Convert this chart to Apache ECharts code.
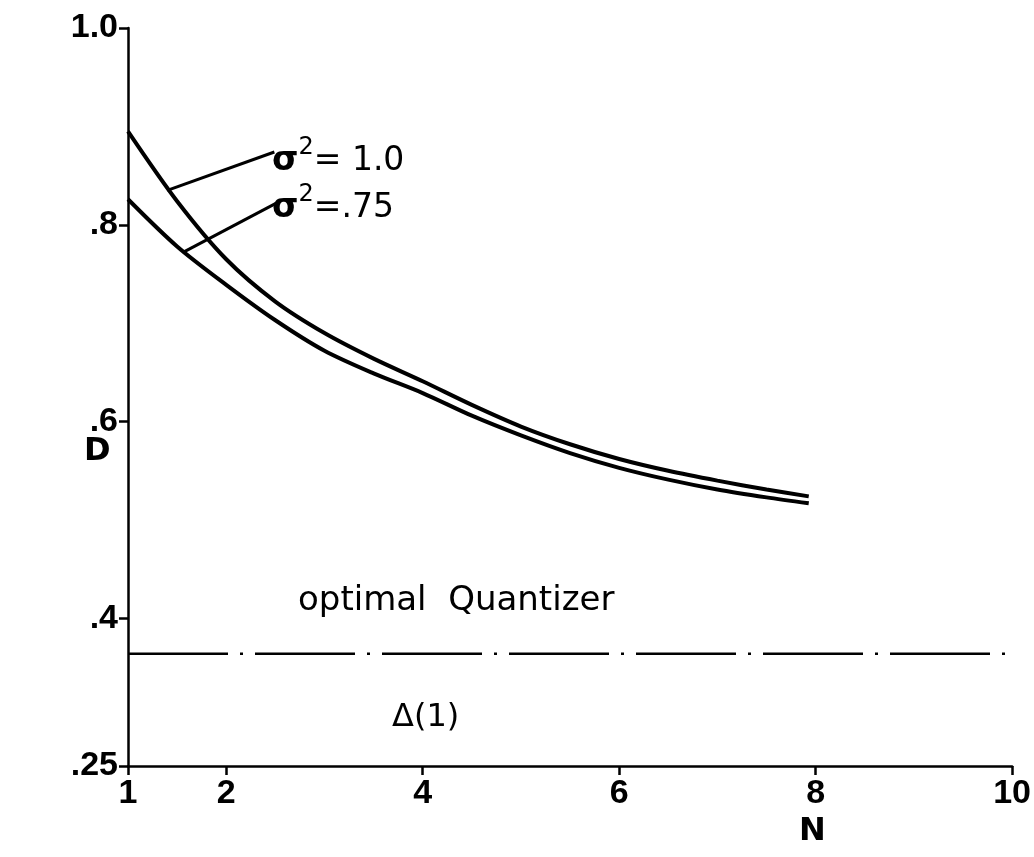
<!DOCTYPE html>
<html>
<head>
<meta charset="utf-8">
<script src="https://cdn.jsdelivr.net/npm/echarts@6/dist/echarts.min.js"></script>
<style>
html,body{margin:0;padding:0;background:#fff;}
#chart{width:1034px;height:857px;}
</style>
</head>
<body>
<div id="chart"></div>
<script>
// ---- data ----
const nValues  = [1, 1.5, 2, 2.5, 3, 3.5, 4, 4.5, 5, 5.5, 6, 6.5, 7, 7.5, 7.93];
const dSigma100 = [0.895, 0.824, 0.765, 0.722, 0.690, 0.664, 0.641, 0.617, 0.595, 0.577, 0.562, 0.550, 0.540, 0.531, 0.524];
const dSigma075 = [0.826, 0.778, 0.739, 0.703, 0.672, 0.649, 0.629, 0.606, 0.586, 0.568, 0.553, 0.541, 0.531, 0.523, 0.517];
const optimalN = [1, 10];
const optimalD = [0.364, 0.364];
const xTickValues = [1, 2, 4, 6, 8, 10];
const xTickLabels = ['1', '2', '4', '6', '8', '10'];
const yTickValues = [0.25, 0.4, 0.6, 0.8, 1.0];
const yTickLabels = ['.25', '.4', '.6', '.8', '1.0'];
// leader lines (data units): from curve to label
const leader100 = [[1.40, 0.835], [2.49, 0.874]];
const leader075 = [[1.56, 0.772], [2.51, 0.822]];

const FONT = 'DejaVu Sans';
const TICKFONT = 'Liberation Sans';
const chart = echarts.init(document.getElementById('chart'), null, {renderer: 'canvas'});

function pairs(xs, ys) { return xs.map((x, i) => [x, ys[i]]); }

const option = {
  backgroundColor: '#ffffff',
  animation: false,
  grid: {left: 128, right: 18, top: 28, bottom: 91},
  xAxis: {
    type: 'value', min: 1, max: 10,
    axisLine: {show: true, onZero: false, lineStyle: {color: '#000', width: 2.5}},
    axisTick: {show: true, inside: false, length: 9, customValues: xTickValues, lineStyle: {color: '#000', width: 2.5}},
    axisLabel: {show: true, customValues: xTickValues, margin: 11, color: '#000', fontFamily: TICKFONT, fontWeight: 'bold', fontSize: 34,
      formatter: v => xTickLabels[xTickValues.indexOf(v)] ?? ''},
    splitLine: {show: false}
  },
  yAxis: {
    type: 'value', min: 0.25, max: 1.0,
    axisLine: {show: true, onZero: false, lineStyle: {color: '#000', width: 2.5}},
    axisTick: {show: true, inside: false, length: 9, customValues: yTickValues, lineStyle: {color: '#000', width: 2.5}},
    axisLabel: {show: true, customValues: yTickValues, margin: 10, color: '#000', fontFamily: TICKFONT, fontWeight: 'bold', fontSize: 34,
      formatter: v => {
        const i = yTickValues.findIndex(t => Math.abs(t - v) < 1e-9);
        return i >= 0 ? yTickLabels[i] : '';
      }},
    splitLine: {show: false}
  },
  series: [
    {
      name: 'σ²=1.0', type: 'line', data: pairs(nValues, dSigma100), smooth: 0.3,
      showSymbol: false, lineStyle: {color: '#000', width: 4}, z: 3,
      markLine: {silent: true, symbol: ['none', 'none'], label: {show: false},
        lineStyle: {color: '#000', width: 3, type: 'solid'},
        data: [[{coord: leader100[0]}, {coord: leader100[1]}]]}
    },
    {
      name: 'σ²=.75', type: 'line', data: pairs(nValues, dSigma075), smooth: 0.3,
      showSymbol: false, lineStyle: {color: '#000', width: 4}, z: 3,
      markLine: {silent: true, symbol: ['none', 'none'], label: {show: false},
        lineStyle: {color: '#000', width: 3, type: 'solid'},
        data: [[{coord: leader075[0]}, {coord: leader075[1]}]]}
    },
    {
      name: 'optimal Quantizer', type: 'line', data: pairs(optimalN, optimalD),
      showSymbol: false, lineStyle: {color: '#000', width: 2.5, type: [100, 12, 3, 12]}, z: 2
    }
  ],
  graphic: [
    {type: 'text', left: 272, top: 136, style: {
      text: '{s|σ}{p|2}{t|= 1.0}', fill: '#000',
      rich: {
        s: {fontFamily: FONT, fontSize: 34, fontWeight: 'bold', lineHeight: 42, verticalAlign: 'bottom'},
        p: {fontFamily: FONT, fontSize: 24, lineHeight: 42, verticalAlign: 'top'},
        t: {fontFamily: FONT, fontSize: 33, lineHeight: 42, verticalAlign: 'bottom'}
      }}},
    {type: 'text', left: 272, top: 183, style: {
      text: '{s|σ}{p|2}{t|=.75}', fill: '#000',
      rich: {
        s: {fontFamily: FONT, fontSize: 34, fontWeight: 'bold', lineHeight: 42, verticalAlign: 'bottom'},
        p: {fontFamily: FONT, fontSize: 24, lineHeight: 42, verticalAlign: 'top'},
        t: {fontFamily: FONT, fontSize: 33, lineHeight: 42, verticalAlign: 'bottom'}
      }}},
    {type: 'text', left: 298, top: 584, style: {text: 'optimal  Quantizer', fill: '#000', fontFamily: FONT, fontSize: 34}},
    {type: 'text', left: 392, top: 702, style: {text: 'Δ(1)', fill: '#000', fontFamily: FONT, fontSize: 32}},
    {type: 'text', left: 84, top: 436, style: {text: 'D', fill: '#000', fontFamily: FONT, fontSize: 32, fontWeight: 'bold'}},
    {type: 'text', left: 799, top: 816, style: {text: 'N', fill: '#000', fontFamily: FONT, fontSize: 32, fontWeight: 'bold'}}
  ]
};
chart.setOption(option);
</script>
</body>
</html>
